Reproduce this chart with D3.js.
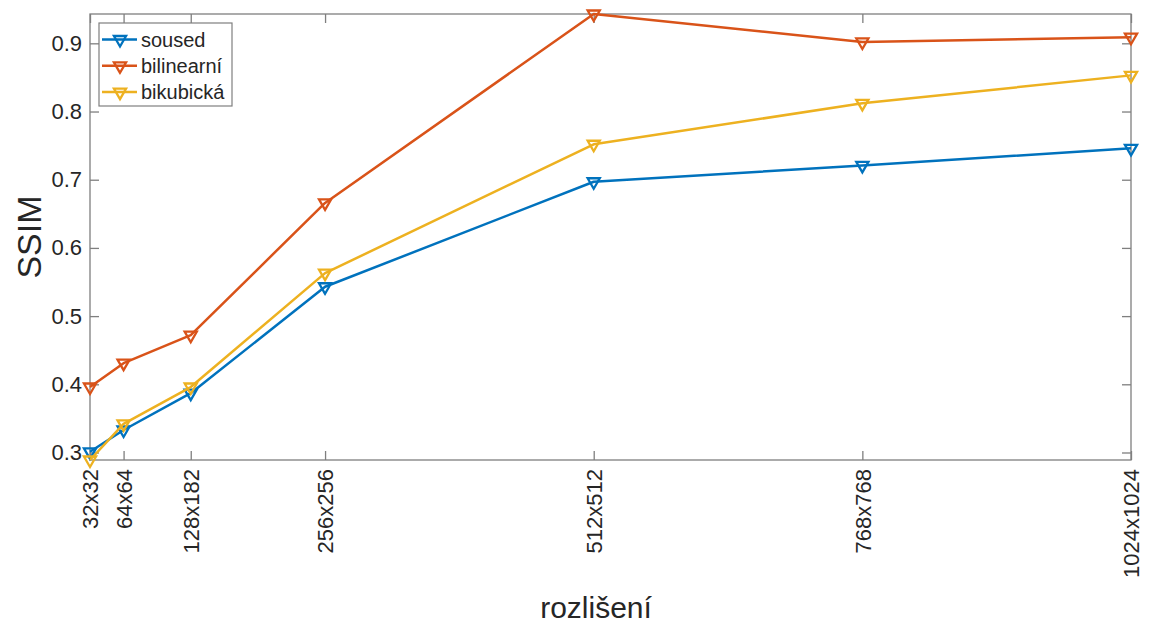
<!DOCTYPE html>
<html>
<head>
<meta charset="utf-8">
<script src="https://cdn.jsdelivr.net/npm/d3@7"></script>
<style>
  html, body { margin: 0; padding: 0; background: #fff; }
  svg text { font-family: "Liberation Sans", Arial, sans-serif; fill: #262626; }
</style>
</head>
<body>
<svg id="chart" width="1149" height="627"></svg>
<script>
// Image resolutions (square side in px) and their tick labels
const resolutions = [32, 64, 128, 256, 512, 768, 1024];
const tickLabels = ["32x32", "64x64", "128x182", "256x256", "512x512", "768x768", "1024x1024"];
const yTicks = [0.3, 0.4, 0.5, 0.6, 0.7, 0.8, 0.9];

// SSIM per interpolation method
const seriesNames = ["soused", "bilinearní", "bikubická"];
const soused     = [0.301, 0.333, 0.387, 0.543, 0.697, 0.721, 0.746];
const bilinearni = [0.396, 0.431, 0.472, 0.666, 0.943, 0.902, 0.909];
const bikubicka  = [0.289, 0.342, 0.396, 0.563, 0.752, 0.812, 0.853];
const seriesColors = ["#0072BD", "#D95319", "#EDB120"];

const seriesData = [soused, bilinearni, bikubicka];

const svg = d3.select("#chart");
const W = 1149, H = 627;
const margin = { left: 90, right: W - 1131, top: 14, bottom: H - 460 };

const x = d3.scaleLinear()
  .domain(d3.extent(resolutions))
  .range([margin.left, W - margin.right]);

// tight y limits around the data
const allVals = seriesData.flat();
const y = d3.scaleLinear()
  .domain(d3.extent(allVals))
  .range([H - margin.bottom, margin.top]);

const axisColor = "#7f7f7f";
const tickLen = 9;
const labelFont = "'Liberation Sans', Arial, sans-serif";

// axes box
svg.append("rect")
  .attr("x", x.range()[0]).attr("y", y.range()[1])
  .attr("width", x.range()[1] - x.range()[0])
  .attr("height", y.range()[0] - y.range()[1])
  .attr("fill", "none").attr("stroke", axisColor).attr("stroke-width", 1.3);

// bottom axis (ticks inward, rotated labels)
const xAxis = d3.axisBottom(x).tickValues(resolutions).tickSize(-tickLen).tickFormat((d, i) => tickLabels[i]);
const gx = svg.append("g").attr("transform", `translate(0,${y.range()[0]})`).call(xAxis);
gx.select(".domain").remove();
gx.selectAll(".tick line").attr("stroke", axisColor).attr("stroke-width", 1.3);
gx.selectAll(".tick text")
  .attr("transform", "rotate(-90)")
  .attr("x", -9).attr("y", 0).attr("dy", "0.36em")
  .attr("text-anchor", "end")
  .style("font-size", "22px").style("font-family", labelFont).attr("fill", "#262626");

// top ticks
const gxt = svg.append("g").attr("transform", `translate(0,${y.range()[1]})`)
  .call(d3.axisTop(x).tickValues(resolutions).tickSize(-tickLen).tickFormat(""));
gxt.select(".domain").remove();
gxt.selectAll(".tick line").attr("stroke", axisColor).attr("stroke-width", 1.3);

// left axis
const gy = svg.append("g").attr("transform", `translate(${x.range()[0]},0)`)
  .call(d3.axisLeft(y).tickValues(yTicks).tickSize(-tickLen).tickPadding(8).tickFormat(d3.format(".1f")));
gy.select(".domain").remove();
gy.selectAll(".tick line").attr("stroke", axisColor).attr("stroke-width", 1.3);
gy.selectAll(".tick text").style("font-size", "22px").style("font-family", labelFont).attr("fill", "#262626");

// right ticks
const gyr = svg.append("g").attr("transform", `translate(${x.range()[1]},0)`)
  .call(d3.axisRight(y).tickValues(yTicks).tickSize(-tickLen).tickFormat(""));
gyr.select(".domain").remove();
gyr.selectAll(".tick line").attr("stroke", axisColor).attr("stroke-width", 1.3);

// axis titles
svg.append("text")
  .attr("transform", `translate(41,${(y.range()[0] + y.range()[1]) / 2}) rotate(-90)`)
  .attr("text-anchor", "middle")
  .style("font-size", "34px")
  .text("SSIM");

svg.append("text")
  .attr("x", 596).attr("y", 618)
  .attr("text-anchor", "middle")
  .style("font-size", "30px")
  .text("rozlišení");

// series lines and down-triangle markers
const line = d3.line().x((d, i) => x(resolutions[i])).y(d => y(d));
const tri = d3.symbol().type(d3.symbolTriangle).size(64);

seriesData.forEach((vals, s) => {
  const g = svg.append("g");
  g.append("path").datum(vals)
    .attr("d", line)
    .attr("fill", "none")
    .attr("stroke", seriesColors[s])
    .attr("stroke-width", 2.5)
    .attr("stroke-linejoin", "round");
  g.selectAll("path.m").data(vals).enter().append("path")
    .attr("class", "m")
    .attr("d", tri)
    .attr("transform", (d, i) => `translate(${x(resolutions[i])},${y(d)}) rotate(180)`)
    .attr("fill", "none")
    .attr("stroke", seriesColors[s])
    .attr("stroke-width", 2.3);
});

// legend
const lg = svg.append("g");
lg.append("rect")
  .attr("x", 99).attr("y", 23).attr("width", 133).attr("height", 83)
  .attr("fill", "#fff").attr("stroke", axisColor).attr("stroke-width", 1.2);
seriesNames.forEach((name, s) => {
  const cy = 39.5 + s * 26.3;
  lg.append("line")
    .attr("x1", 102).attr("x2", 137).attr("y1", cy).attr("y2", cy)
    .attr("stroke", seriesColors[s]).attr("stroke-width", 2.5);
  lg.append("path")
    .attr("d", tri)
    .attr("transform", `translate(120,${cy}) rotate(180)`)
    .attr("fill", "none").attr("stroke", seriesColors[s]).attr("stroke-width", 2.3);
  lg.append("text")
    .attr("x", 141).attr("y", cy).attr("dy", "0.36em")
    .style("font-size", "20px")
    .text(name);
});
</script>
</body>
</html>
